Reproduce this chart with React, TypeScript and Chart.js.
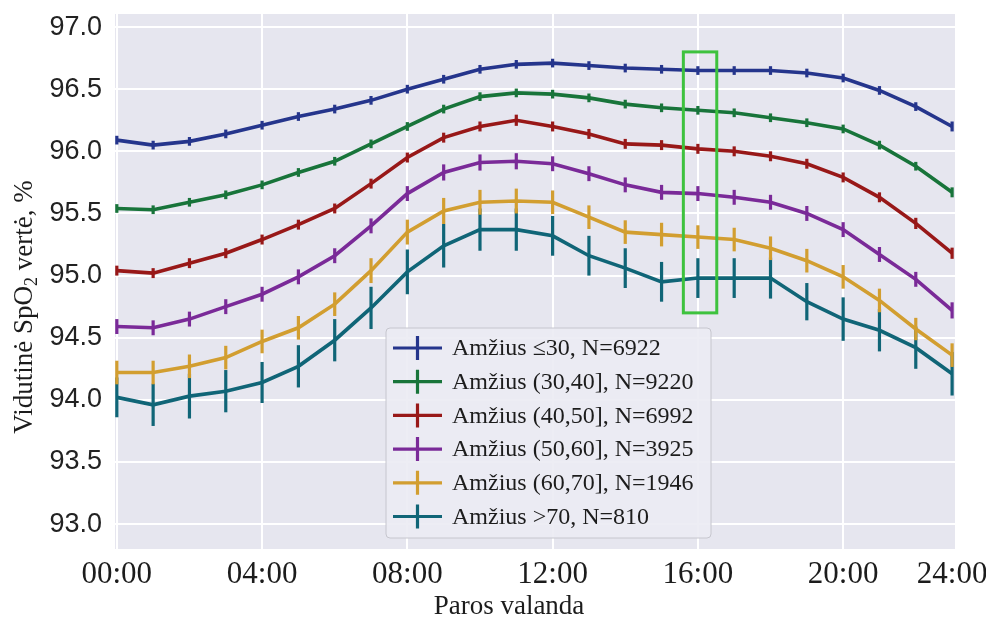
import React, { useEffect, useRef } from 'react';
import { Chart, registerables } from 'chart.js';

Chart.register(...registerables);

// ---------- data ----------
const hours = [0, 1, 2, 3, 4, 5, 6, 7, 8, 9, 10, 11, 12, 13, 14, 15, 16, 17, 18, 19, 20, 21, 22, 23];
const xTickValues = [0, 4, 8, 12, 16, 20, 23];
const xTickLabels = ['00:00', '04:00', '08:00', '12:00', '16:00', '20:00', '24:00'];
const yTickValues = [93.0, 93.5, 94.0, 94.5, 95.0, 95.5, 96.0, 96.5, 97.0];

const seriesNames = [
  'Amžius ≤30, N=6922',
  'Amžius (30,40], N=9220',
  'Amžius (40,50], N=6992',
  'Amžius (50,60], N=3925',
  'Amžius (60,70], N=1946',
  'Amžius >70, N=810',
];
const seriesColors = ['#25358c', '#18743a', '#981818', '#7a2a98', '#d29e30', '#106577'];

const age30 = [96.09, 96.05, 96.08, 96.14, 96.21, 96.28, 96.34, 96.41, 96.50, 96.58, 96.66, 96.70, 96.71, 96.69, 96.67, 96.66, 96.65, 96.65, 96.65, 96.63, 96.59, 96.49, 96.36, 96.20];
const age30_40 = [95.54, 95.53, 95.59, 95.65, 95.73, 95.83, 95.92, 96.06, 96.20, 96.34, 96.44, 96.47, 96.46, 96.43, 96.38, 96.35, 96.33, 96.31, 96.27, 96.23, 96.18, 96.05, 95.88, 95.67];
const age40_50 = [95.04, 95.02, 95.10, 95.18, 95.29, 95.41, 95.54, 95.74, 95.95, 96.11, 96.20, 96.25, 96.20, 96.14, 96.06, 96.05, 96.02, 96.00, 95.96, 95.90, 95.79, 95.63, 95.42, 95.18];
const age50_60 = [94.59, 94.58, 94.65, 94.75, 94.85, 94.99, 95.16, 95.40, 95.66, 95.83, 95.91, 95.92, 95.90, 95.82, 95.73, 95.67, 95.66, 95.63, 95.59, 95.50, 95.37, 95.17, 94.97, 94.72];
const age60_70 = [94.22, 94.22, 94.27, 94.34, 94.47, 94.58, 94.77, 95.04, 95.35, 95.52, 95.59, 95.60, 95.59, 95.47, 95.35, 95.33, 95.31, 95.29, 95.22, 95.12, 94.99, 94.80, 94.57, 94.36];
const age70 = [94.02, 93.96, 94.03, 94.07, 94.14, 94.27, 94.48, 94.74, 95.03, 95.24, 95.37, 95.37, 95.32, 95.16, 95.06, 94.95, 94.98, 94.98, 94.98, 94.79, 94.65, 94.56, 94.42, 94.21];

const age30Err = [0.035, 0.035, 0.035, 0.035, 0.035, 0.035, 0.035, 0.035, 0.035, 0.035, 0.035, 0.035, 0.035, 0.035, 0.035, 0.035, 0.035, 0.035, 0.035, 0.035, 0.035, 0.035, 0.035, 0.04];
const age30_40Err = [0.035, 0.035, 0.035, 0.035, 0.035, 0.035, 0.035, 0.035, 0.035, 0.035, 0.035, 0.035, 0.035, 0.035, 0.035, 0.035, 0.035, 0.035, 0.035, 0.035, 0.035, 0.035, 0.035, 0.04];
const age40_50Err = [0.04, 0.04, 0.04, 0.04, 0.04, 0.04, 0.04, 0.04, 0.04, 0.04, 0.04, 0.045, 0.04, 0.04, 0.04, 0.04, 0.04, 0.04, 0.04, 0.04, 0.04, 0.04, 0.045, 0.045];
const age50_60Err = [0.06, 0.06, 0.06, 0.06, 0.06, 0.06, 0.06, 0.06, 0.06, 0.065, 0.065, 0.065, 0.06, 0.06, 0.06, 0.06, 0.06, 0.06, 0.06, 0.06, 0.06, 0.06, 0.06, 0.065];
const age60_70Err = [0.095, 0.095, 0.095, 0.095, 0.095, 0.095, 0.095, 0.1, 0.1, 0.105, 0.1, 0.1, 0.095, 0.095, 0.095, 0.095, 0.095, 0.095, 0.095, 0.095, 0.095, 0.095, 0.09, 0.095];
const age70Err = [0.16, 0.17, 0.18, 0.17, 0.165, 0.17, 0.17, 0.17, 0.18, 0.175, 0.17, 0.17, 0.16, 0.16, 0.16, 0.16, 0.16, 0.16, 0.165, 0.15, 0.175, 0.17, 0.17, 0.175];

const seriesValues = [age30, age30_40, age40_50, age50_60, age60_70, age70];
const seriesErrors = [age30Err, age30_40Err, age40_50Err, age50_60Err, age60_70Err, age70Err];

// highlighted region (data coordinates)
const highlightX = [15.6, 16.52];
const highlightY = [94.7, 96.8];

const yTitleParts = ['Vidutinė SpO', '2', ' vertė, %'];
const xTitle = 'Paros valanda';

const SERIF = '"Liberation Serif", "Times New Roman", serif';
const SANS = '"Liberation Sans", Arial, sans-serif';

export default function App() {
  const ref = useRef<HTMLCanvasElement>(null);

  useEffect(() => {
    document.body.style.margin = '0';
    const canvas = ref.current;
    if (!canvas) return;

    const bgPlugin = {
      id: 'plotBg',
      beforeDraw(chart: any) {
        const { ctx, chartArea } = chart;
        ctx.save();
        ctx.fillStyle = '#ffffff';
        ctx.fillRect(0, 0, chart.width, chart.height);
        ctx.fillStyle = '#e6e6ef';
        ctx.fillRect(chartArea.left, chartArea.top, chartArea.right - chartArea.left, chartArea.bottom - chartArea.top);
        ctx.restore();
      },
    };

    const errPlugin = {
      id: 'errBars',
      afterDatasetDraw(chart: any, args: any) {
        const i = args.index;
        const meta = args.meta;
        const ys = chart.scales.y;
        const { ctx } = chart;
        ctx.save();
        ctx.strokeStyle = seriesColors[i];
        ctx.lineWidth = 3.2;
        ctx.lineCap = 'butt';
        meta.data.forEach((pt: any, j: number) => {
          const v = seriesValues[i][j];
          const e = seriesErrors[i][j];
          ctx.beginPath();
          ctx.moveTo(pt.x, ys.getPixelForValue(v - e));
          ctx.lineTo(pt.x, ys.getPixelForValue(v + e));
          ctx.stroke();
        });
        ctx.restore();
      },
    };

    const overlayPlugin = {
      id: 'overlay',
      afterDraw(chart: any) {
        const { ctx } = chart;
        const xs = chart.scales.x;
        const ys = chart.scales.y;
        ctx.save();
        // highlight rectangle
        const x0 = xs.getPixelForValue(highlightX[0]);
        const x1 = xs.getPixelForValue(highlightX[1]);
        const y0 = ys.getPixelForValue(highlightY[1]);
        const y1 = ys.getPixelForValue(highlightY[0]);
        ctx.strokeStyle = '#3ec23e';
        ctx.lineWidth = 3;
        ctx.strokeRect(x0, y0, x1 - x0, y1 - y0);

        // legend
        const lx = 386, ly = 328, lw = 325, lh = 210, r = 4;
        ctx.beginPath();
        ctx.moveTo(lx + r, ly);
        ctx.lineTo(lx + lw - r, ly);
        ctx.quadraticCurveTo(lx + lw, ly, lx + lw, ly + r);
        ctx.lineTo(lx + lw, ly + lh - r);
        ctx.quadraticCurveTo(lx + lw, ly + lh, lx + lw - r, ly + lh);
        ctx.lineTo(lx + r, ly + lh);
        ctx.quadraticCurveTo(lx, ly + lh, lx, ly + lh - r);
        ctx.lineTo(lx, ly + r);
        ctx.quadraticCurveTo(lx, ly, lx + r, ly);
        ctx.closePath();
        ctx.fillStyle = 'rgba(236,236,243,0.92)';
        ctx.fill();
        ctx.strokeStyle = '#c6c6ce';
        ctx.lineWidth = 1;
        ctx.stroke();

        ctx.font = `24px ${SERIF}`;
        ctx.textBaseline = 'middle';
        ctx.textAlign = 'left';
        seriesNames.forEach((name, i) => {
          const cy = 348 + i * 33.7;
          ctx.strokeStyle = seriesColors[i];
          ctx.lineWidth = 3.2;
          ctx.beginPath();
          ctx.moveTo(393, cy);
          ctx.lineTo(442, cy);
          ctx.moveTo(417.5, cy - 12);
          ctx.lineTo(417.5, cy + 12);
          ctx.stroke();
          ctx.fillStyle = '#1c1c1c';
          ctx.fillText(name, 452, cy + 1);
        });

        // axis titles
        ctx.fillStyle = '#1c1c1c';
        ctx.textBaseline = 'alphabetic';
        ctx.font = `27px ${SERIF}`;
        const w = ctx.measureText(xTitle).width;
        ctx.fillText(xTitle, 509 - w / 2, 614);

        const normal = `27px ${SERIF}`;
        const small = `18px ${SERIF}`;
        ctx.font = normal;
        const w0 = ctx.measureText(yTitleParts[0]).width;
        const w2 = ctx.measureText(yTitleParts[2]).width;
        ctx.font = small;
        const w1 = ctx.measureText(yTitleParts[1]).width;
        const total = w0 + w1 + w2;
        ctx.translate(32, 307);
        ctx.rotate(-Math.PI / 2);
        let cx = -total / 2;
        ctx.font = normal;
        ctx.fillText(yTitleParts[0], cx, 0);
        cx += w0;
        ctx.font = small;
        ctx.fillText(yTitleParts[1], cx, 5);
        cx += w1;
        ctx.font = normal;
        ctx.fillText(yTitleParts[2], cx, 0);
        ctx.restore();
      },
    };

    const chart = new Chart(canvas, {
      type: 'line',
      data: {
        datasets: seriesNames.map((name, i) => ({
          label: name,
          data: hours.map((h, j) => ({ x: h, y: seriesValues[i][j] })),
          borderColor: seriesColors[i],
          backgroundColor: seriesColors[i],
          borderWidth: 3.6,
          pointRadius: 0,
          pointHoverRadius: 0,
          tension: 0,
          fill: false,
        })),
      },
      options: {
        responsive: false,
        animation: false,
        devicePixelRatio: 1,
        events: [],
        layout: { padding: { top: 14, right: 31, left: 0, bottom: 0 } },
        plugins: {
          legend: { display: false },
          tooltip: { enabled: false },
          title: { display: false },
        },
        scales: {
          x: {
            type: 'linear',
            min: -0.05,
            max: 23.08,
            afterBuildTicks(scale: any) {
              scale.ticks = xTickValues.map((v) => ({ value: v }));
            },
            afterFit(scale: any) {
              scale.height = 70;
              scale.paddingLeft = 0;
              scale.paddingRight = 0;
            },
            ticks: {
              autoSkip: false,
              maxRotation: 0,
              padding: 7,
              color: '#1c1c1c',
              font: { family: SERIF, size: 31 },
              callback(value: any) {
                const k = xTickValues.indexOf(Number(value));
                return k >= 0 ? xTickLabels[k] : '';
              },
            },
            grid: {
              color: (c: any) => (c.tick && c.tick.value === 23 ? 'rgba(0,0,0,0)' : '#ffffff'),
              lineWidth: 2,
              drawTicks: false,
            },
            border: { display: false },
          },
          y: {
            type: 'linear',
            min: 92.8,
            max: 97.105,
            afterBuildTicks(scale: any) {
              scale.ticks = yTickValues.map((v) => ({ value: v }));
            },
            afterFit(scale: any) {
              scale.width = 115;
              scale.paddingTop = 0;
              scale.paddingBottom = 0;
            },
            ticks: {
              autoSkip: false,
              padding: 13,
              color: '#222222',
              font: { family: SANS, size: 27 },
              callback(value: any) {
                return Number(value).toFixed(1);
              },
            },
            grid: { color: '#ffffff', lineWidth: 2, drawTicks: false },
            border: { display: false },
          },
        },
      },
      plugins: [bgPlugin, errPlugin, overlayPlugin],
    });

    return () => chart.destroy();
  }, []);

  return <canvas ref={ref} width={986} height={619} style={{ display: 'block', width: 986, height: 619 }} />;
}
